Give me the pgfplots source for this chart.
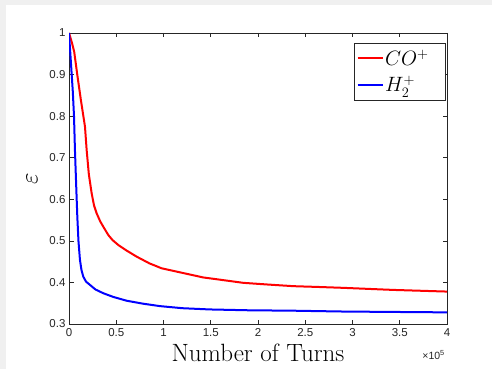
\documentclass[border=0pt]{standalone}
\usepackage{pgfplots}
\pgfplotsset{compat=1.18}
\usepackage{fontspec}
\setmainfont{Latin Modern Roman}
\newfontfamily\helv{Liberation Sans}
\definecolor{axgray}{RGB}{38,38,38}
\definecolor{bggray}{RGB}{240,240,240}
\begin{document}
\begin{tikzpicture}[x=1pt,y=1pt]
\fill[bggray] (-69,-45) rectangle (423,324);
\fill[white] (-63,-45) rectangle (423,319);
\useasboundingbox (-69,-45) rectangle (423,324);
\begin{axis}[
  at={(0,0)}, anchor=south west,
  scale only axis, width=378pt, height=291pt,
  xmin=0, xmax=400000, ymin=0.3, ymax=1,
  xtick={0,50000,100000,150000,200000,250000,300000,350000,400000},
  xticklabels={0,0.5,1,1.5,2,2.5,3,3.5,4},
  scaled x ticks=false,
  ytick={0.3,0.4,0.5,0.6,0.7,0.8,0.9,1},
  /pgf/number format/assume math mode=true,
  ticklabel style={font=\helv\fontsize{11.5}{13}\selectfont, text=axgray},
  xticklabel style={yshift=-1pt},
  tick align=inside,
  major tick length=4.5pt,
  tick style={axgray, line width=0.6pt},
  axis line style={axgray, line width=0.6pt},
  xtick pos=both, ytick pos=both,
  xticklabel pos=lower, yticklabel pos=left,
  xlabel={Number of Turns},
  xlabel style={font=\fontsize{25}{28}\selectfont, at={(axis description cs:0.5,0)}, anchor=base, yshift=-37pt, inner sep=0pt},
  ylabel={$\varepsilon$},
  ylabel style={font=\fontsize{24}{26}\selectfont, at={(axis description cs:0,0.5)}, anchor=center, yshift=37pt, inner sep=0pt},
  legend style={at={(rel axis cs:1,1)}, anchor=north east, xshift=-1pt, yshift=-10pt,
    font=\fontsize{21.5}{23}\selectfont, draw=axgray, line width=0.6pt,
    inner xsep=2.5pt, inner ysep=5pt, row sep=6pt,
    nodes={inner sep=1.5pt}},
  legend cell align=left,
  legend image code/.code={\draw[#1, line width=2pt] (0pt,0pt) -- (25pt,0pt);},
  extra description/.code={
    \node[anchor=base east, inner sep=0pt, text=axgray, font=\helv\fontsize{10.5}{12}\selectfont]
      at ([xshift=-2pt,yshift=-35pt]rel axis cs:1,0) {×10\textsuperscript{5}};
  },
]
\addplot[red, line width=2pt] coordinates {
(0,1.0) (2800,0.979) (5500,0.955) (8800,0.899) (12500,0.84) (16900,0.775) (18700,0.718)
(21000,0.66) (24000,0.614) (26500,0.585) (29300,0.566) (33000,0.547) (36300,0.534)
(41600,0.514) (46000,0.502) (52200,0.490) (60000,0.478) (71600,0.462) (85000,0.446)
(98000,0.434) (118000,0.424) (142000,0.412) (165000,0.405) (184500,0.399) (210000,0.395)
(237400,0.391) (265000,0.389) (290000,0.387) (343000,0.382) (400000,0.378)};
\addlegendentry{$CO^+$\rule{13pt}{0pt}}
\addplot[blue, line width=2pt] coordinates {
(0,1.0) (2000,0.93) (4000,0.86) (5300,0.80) (6300,0.718) (7500,0.64) (8800,0.558)
(10000,0.50) (11600,0.454) (13200,0.43) (15100,0.414) (18000,0.402) (22200,0.394)
(28000,0.383) (36300,0.374) (47000,0.365) (61000,0.356) (78000,0.349) (96300,0.343)
(120000,0.338) (149000,0.335) (190000,0.333) (237000,0.332) (290000,0.330) (343000,0.329) (400000,0.328)};
\addlegendentry{$H_2^+$}
\end{axis}
\end{tikzpicture}
\end{document}
